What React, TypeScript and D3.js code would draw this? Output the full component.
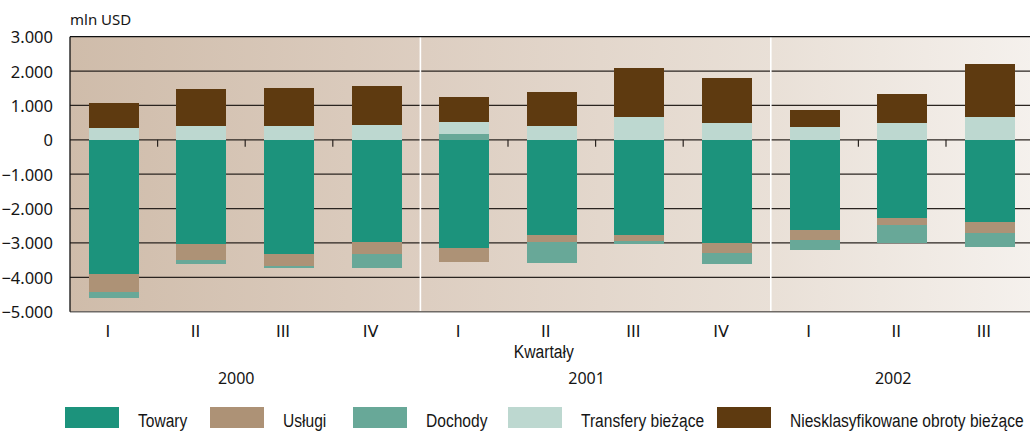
import * as d3 from 'd3';

// Bilans obrotów bieżących, mln USD
const quarters = ['I', 'II', 'III', 'IV', 'I', 'II', 'III', 'IV', 'I', 'II', 'III'];
const yearOfQuarter = [0, 0, 0, 0, 1, 1, 1, 1, 2, 2, 2];
const years = ['2000', '2001', '2002'];

const towary = [-3890, -3045, -3335, -2985, -3160, -2780, -2755, -3015, -2635, -2260, -2405];
const uslugi = [-530, -445, -340, -350, -380, -205, -200, -265, -290, -205, -320];
const dochody = [-195, -108, -60, -380, 155, -610, -90, -320, -290, -530, -380];
const transfery = [330, 415, 415, 445, 350, 415, 675, 475, 385, 475, 650];
const niesklasyfikowane = [755, 1075, 1105, 1135, 755, 990, 1400, 1335, 495, 870, 1570];

const seriesNames = ['Towary', 'Usługi', 'Dochody', 'Transfery bieżące', 'Niesklasyfikowane obroty bieżące'];
const seriesValues = [towary, uslugi, dochody, transfery, niesklasyfikowane];
const yTicks = [3000, 2000, 1000, 0, -1000, -2000, -3000, -4000, -5000];

const COLORS = ['#1c937c', '#ad9276', '#68a898', '#bdd8d0', '#5e3a10'];
const LEGEND_X = [65, 210, 353, 508, 717];

const W = 1030;
const H = 432;
const left = 70;
const step = 87.6;
const right = left + quarters.length * step;
const top = 36.7;
const bottom = 311.7;

const fmt = (v: number) => (v === 0 ? '0' : d3.format(',')(v).replace(/,/g, '.'));

export default function App() {
  const x = d3.scaleBand<number>()
    .domain(quarters.map((_, i) => i))
    .range([left, right])
    .paddingInner(0.43)
    .paddingOuter(0.215);

  const y = d3.scaleLinear().domain([-5000, 3000]).range([bottom, top]);

  const rows = quarters.map((_, i) => {
    const r: Record<string, number> = {};
    seriesNames.forEach((n, k) => { r[n] = seriesValues[k][i]; });
    return r;
  });
  const stacked = d3.stack<Record<string, number>>()
    .keys(seriesNames)
    .offset(d3.stackOffsetDiverging)(rows);

  const center = (i: number) => (x(i) ?? 0) + x.bandwidth() / 2;
  const boundaries = d3.range(1, quarters.length)
    .map(i => ({ i, xv: left + i * x.step() }));
  const yearBreaks = boundaries.filter(b => yearOfQuarter[b.i] !== yearOfQuarter[b.i - 1]);
  const minorTicks = boundaries.filter(b => yearOfQuarter[b.i] === yearOfQuarter[b.i - 1]);

  const sans = '"Noto Sans", "Open Sans", sans-serif';
  const plain = '"DejaVu Sans", "Liberation Sans", sans-serif';
  // Arial Narrow look: Liberation Sans squeezed horizontally
  const narrow = '"Liberation Sans", Arial, sans-serif';

  return (
    <svg width={W} height={H} style={{ position: 'absolute', left: 0, top: 0 }}>
      <defs>
        <linearGradient id="bg" gradientUnits="userSpaceOnUse" x1={left} x2={right} y1={0} y2={0}>
          <stop offset="0" stopColor="#cfbcaa" />
          <stop offset="0.37" stopColor="#ddcec1" />
          <stop offset="0.73" stopColor="#e9e0d7" />
          <stop offset="1" stopColor="#f5f1ed" />
        </linearGradient>
      </defs>

      <rect x={left} y={top} width={right - left} height={bottom - top} fill="url(#bg)" />

      {yTicks.filter(t => t !== 3000 && t !== -5000).map(t => (
        <line key={t} x1={left} x2={right} y1={y(t)} y2={y(t)} stroke="#2a2420" strokeWidth={1.2} />
      ))}

      {yearBreaks.map(b => (
        <line key={b.i} x1={b.xv} x2={b.xv} y1={top} y2={bottom} stroke="#ffffff" strokeWidth={1.6} />
      ))}

      {minorTicks.map(b => (
        <line key={b.i} x1={b.xv} x2={b.xv} y1={y(0)} y2={y(0) + 7} stroke="#2a2420" strokeWidth={1.2} />
      ))}

      {stacked.map((s, k) => (
        <g key={s.key} fill={COLORS[k]}>
          {s.map((d, i) => (
            <rect
              key={i}
              x={x(i)}
              width={x.bandwidth()}
              y={y(Math.max(d[0], d[1]))}
              height={Math.abs(y(d[0]) - y(d[1]))}
              shapeRendering="crispEdges"
            />
          ))}
        </g>
      ))}

      <line x1={left} x2={right} y1={top} y2={top} stroke="#111" strokeWidth={1.3} />
      <line x1={left} x2={right} y1={bottom} y2={bottom} stroke="#6f6a66" strokeWidth={1.6} />
      <line x1={left} x2={left} y1={top} y2={bottom} stroke="#111" strokeWidth={1.3} />

      {yTicks.map(t => (
        <text key={t} x={53} y={y(t) + 6.5} textAnchor="end" fontFamily={sans} fontSize={16.5} fill="#151515">
          {fmt(t)}
        </text>
      ))}
      <text x={70} y={25} fontFamily={sans} fontSize={15} fill="#151515">mln USD</text>

      {quarters.map((q, i) => (
        <text key={i} x={center(i) - 6} y={336.5} textAnchor="middle" fontFamily={plain} fontSize={16} fill="#151515">
          {q}
        </text>
      ))}
      <text
        transform={`translate(${(left + right) / 2 - 8},358) scale(0.85,1)`}
        textAnchor="middle" fontFamily={narrow} fontSize={18.5} fill="#151515"
      >
        Kwartały
      </text>
      {years.map((yr, k) => {
        const idx = quarters.map((_, i) => i).filter(i => yearOfQuarter[i] === k);
        const cx = (center(idx[0]) + center(idx[idx.length - 1])) / 2;
        return (
          <text key={yr} x={cx - 9} y={384} textAnchor="middle" fontFamily={sans} fontSize={16} fill="#151515">
            {yr}
          </text>
        );
      })}

      {seriesNames.map((n, k) => (
        <g key={n} transform={`translate(${LEGEND_X[k]},0)`}>
          <rect x={0} y={407} width={54} height={21} fill={COLORS[k]} />
          <text transform="translate(73,427) scale(0.82,1)" fontFamily={narrow} fontSize={19} fill="#151515">{n}</text>
        </g>
      ))}
    </svg>
  );
}
